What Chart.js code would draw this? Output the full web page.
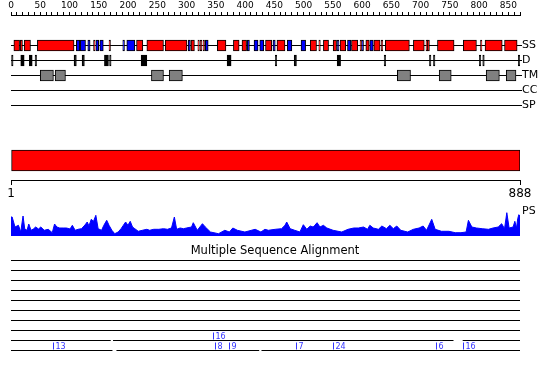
<!DOCTYPE html>
<html lang="en">
<head>
    <meta charset="UTF-8">
    <title>Sequence Feature Overview</title>
    <script src="https://cdn.jsdelivr.net/npm/chart.js"></script>
    <style>
        body {
            margin: 0;
            background-color: #ffffff;
        }

        #wrap {
            width: 550px;
            height: 380px;
            position: relative;
        }
    </style>
</head>
<body>
    <div id="wrap"><canvas id="featureChart"></canvas></div>

    <script>
        // Secondary structure: helices (red) and strands (blue), residue ranges
        const helix = [[5, 15], [16, 20], [23, 34], [46, 110], [144, 144], [171, 171], [219, 230], [237, 266],
            [269, 307], [314, 320], [326, 326], [330, 333], [335, 335], [360, 375], [388, 398], [403, 411],
            [444, 455], [464, 478], [522, 533], [537, 537], [545, 554], [562, 568], [574, 584], [594, 605],
            [609, 609], [619, 625], [633, 644], [646, 646], [653, 695], [702, 721], [724, 724], [726, 730],
            [744, 773], [789, 812], [819, 819], [827, 857], [861, 883]];
        const strand = [[114, 120], [121, 130], [134, 138], [148, 153], [155, 161], [195, 198], [202, 216],
            [309, 313], [339, 344], [412, 416], [424, 431], [434, 441], [457, 461], [482, 490], [506, 514],
            [569, 572], [587, 593], [612, 615], [626, 632]];
        // Disorder (D)
        const disorder = [[1, 1], [17, 23], [32, 37], [42, 42], [110, 114], [124, 128], [163, 170], [172, 174],
            [227, 237], [377, 384], [461, 461], [494, 498], [569, 575], [651, 651], [730, 730], [737, 737],
            [817, 817], [823, 823], [885, 888]];
        // Transmembrane segments (TM)
        const transmem = [[51, 74], [77, 95], [245, 266], [276, 299], [674, 697], [747, 768], [829, 852], [864, 881]];
        // Domain bar
        const domains = [[1, 888]];

        const seqLength = 888;
        const rulerMax = 870;
        const trackNames = ['SS', 'D', 'TM', 'CC', 'SP', 'PS'];

        // PS profile (residue, height)
        const psPos = [0, 2, 7, 13, 17, 21, 24, 28, 31, 35, 39, 43, 48, 52, 58, 65, 72, 76, 80, 85, 91, 97, 103,
            107, 112, 117, 123, 129, 133, 136, 140, 144, 148, 152, 158, 162, 167, 171, 176, 181, 187, 192, 196,
            200, 204, 208, 212, 216, 222, 229, 237, 242, 249, 258, 266, 273, 280, 285, 289, 295, 301, 306, 315,
            318, 325, 334, 339, 348, 362, 373, 381, 387, 395, 408, 426, 436, 443, 449, 461, 472, 478, 481, 487,
            495, 504, 510, 516, 522, 527, 530, 534, 539, 545, 551, 562, 577, 588, 598, 606, 615, 622, 626, 632,
            641, 647, 655, 661, 667, 673, 680, 692, 702, 712, 719, 725, 734, 740, 751, 764, 775, 785, 794, 798,
            804, 812, 822, 833, 841, 850, 856, 861, 865, 869, 876, 879, 882, 884, 886, 888];
        const psVal = [19, 19, 9, 10.7, 4, 20, 7, 5.7, 12, 5.7, 7, 9, 7, 9, 5.7, 6.7, 3.3, 12, 9, 8, 8, 8, 7,
            10.7, 5.7, 6.7, 7.3, 11, 14, 10, 16.7, 14.7, 20.7, 7.3, 5.7, 10.7, 15.7, 10.7, 5.7, 2.3, 4, 7.3, 10.7,
            14, 10.7, 14.7, 9, 7.3, 4.7, 5.7, 6.7, 5.7, 6.7, 6.7, 7.3, 6.7, 8, 19, 6.7, 8, 7.3, 8, 9,
            13.3, 5.7, 12.3, 9, 4, 2.3, 5.7, 4, 8, 5.7, 4, 6.7, 4, 6.7, 5.7, 6.7, 7.3, 10.7, 14, 7.3,
            5.7, 4, 11.3, 6.7, 10, 9, 10.7, 13.3, 9, 10.7, 8, 5.7, 4, 6.7, 8, 8, 9, 6.7, 10.7, 8,
            6.7, 10, 7.3, 10.7, 7.3, 10, 5.7, 4, 6.7, 8, 10, 5.7, 16.7, 6.7, 4.7, 4.7, 3.3, 3.3, 4, 15.7,
            9, 8, 7.3, 6.7, 8, 9, 12.3, 7.3, 23.3, 8, 9, 14.7, 8, 17.3, 21.3, 20];

        // Multiple sequence alignment rows (aligned residue ranges)
        const msaFull = [[1, 888]];
        const msaRow9 = [[1, 174], [179, 772], [789, 888]];
        const msaRow10 = [[1, 177], [185, 433], [438, 888]];
        const msaRows = [msaFull, msaFull, msaFull, msaFull, msaFull, msaFull, msaFull, msaFull, msaRow9, msaRow10];
        // insertion markers: row (0-based), residue, inserted length
        const insRow = [8, 9, 9, 9, 9, 9, 9, 9];
        const insPos = [353, 74, 356, 381, 497, 561, 741, 789];
        const insLen = [16, 13, 8, 9, 7, 24, 6, 16];

        // Layout (pixel rows on the y scale)
        const rowY = { SS: 45.5, D: 60.5, TM: 75.5, CC: 90.5, SP: 105.5, PS: 211, domain: 160.5, ruler: 180.5 };
        const psBase = 236;
        const msaTitleY = 251;
        const msaTop = 260.5;
        const msaGap = 10;
        const FONT = '"DejaVu Sans", sans-serif';

        const toBars = (ranges, row) => ranges.map(r => ({ x: r, y: row }));

        function barSet(ranges, row, color, thickness) {
            return {
                type: 'bar',
                indexAxis: 'y',
                xAxisID: 'x',
                yAxisID: 'y',
                stack: 'tracks',
                data: toBars(ranges, row),
                backgroundColor: color,
                borderColor: '#000000',
                borderWidth: 1,
                borderSkipped: false,
                barThickness: thickness,
                minBarLength: 1.5,
            };
        }

        const noPad = s => {
            s.paddingTop = 0;
            s.paddingBottom = 0;
        };

        // Draws the alignment block, its title and insertion markers using the chart scales
        const msaPlugin = {
            id: 'msa',
            afterDatasetsDraw(chart) {
                const { ctx } = chart;
                const x = chart.scales.x;
                const y = chart.scales.y;
                ctx.save();
                ctx.fillStyle = '#000';
                ctx.font = '11.5px ' + FONT;
                ctx.textAlign = 'center';
                ctx.textBaseline = 'middle';
                ctx.fillText('Multiple Sequence Alignment', chart.width / 2, y.getPixelForValue(msaTitleY));

                ctx.strokeStyle = '#000';
                ctx.lineWidth = 1;
                msaRows.forEach((segs, i) => {
                    const py = y.getPixelForValue(msaTop + i * msaGap);
                    segs.forEach(s => {
                        ctx.beginPath();
                        ctx.moveTo(x.getPixelForValue(s[0] - 1), py);
                        ctx.lineTo(x.getPixelForValue(s[1]), py);
                        ctx.stroke();
                    });
                });

                ctx.strokeStyle = '#3333ff';
                ctx.fillStyle = '#3333ff';
                ctx.font = '8px ' + FONT;
                ctx.textAlign = 'left';
                ctx.textBaseline = 'bottom';
                insPos.forEach((p, i) => {
                    const px = Math.round(x.getPixelForValue(p)) + 0.5;
                    const py = y.getPixelForValue(msaTop + insRow[i] * msaGap) - 1;
                    ctx.beginPath();
                    ctx.moveTo(px, py);
                    ctx.lineTo(px, py - 7);
                    ctx.stroke();
                    ctx.fillText(String(insLen[i]), px + 2, py + 1);
                });
                ctx.restore();
            }
        };

        const data = {
            datasets: [
                barSet(helix, rowY.SS, '#ff0000', 11),
                barSet(strand, rowY.SS, '#0000ff', 11),
                barSet(disorder, rowY.D, '#000000', 11),
                barSet(transmem, rowY.TM, '#808080', 11),
                barSet(domains, rowY.domain, '#ff0000', 21),
                {
                    type: 'line',
                    indexAxis: 'x',
                    xAxisID: 'x',
                    yAxisID: 'yPS',
                    data: psPos.map((p, i) => ({ x: p, y: psVal[i] })),
                    borderColor: '#0000ff',
                    backgroundColor: '#0000ff',
                    borderWidth: 1,
                    pointRadius: 0,
                    fill: 'origin',
                    tension: 0,
                },
            ],
        };

        const config = {
            type: 'bar',
            data: data,
            options: {
                responsive: true,
                maintainAspectRatio: false,
                animation: false,
                events: [],
                layout: { padding: { left: 11, right: 0, top: 0, bottom: 0 } },
                plugins: {
                    legend: { display: false },
                    tooltip: { enabled: false },
                },
                scales: {
                    // data scale for all tracks (hidden)
                    x: {
                        type: 'linear',
                        display: false,
                        stacked: false,
                        min: 0,
                        max: seqLength,
                        offset: false,
                    },
                    // residue ruler along the top
                    xRuler: {
                        type: 'linear',
                        axis: 'x',
                        position: 'top',
                        min: 0,
                        max: rulerMax,
                        offset: false,
                        grid: { drawOnChartArea: false, offset: false, color: '#000', tickLength: 3 },
                        border: { color: '#000' },
                        ticks: {
                            stepSize: 10,
                            includeBounds: false,
                            autoSkip: false,
                            maxRotation: 0,
                            padding: 1,
                            color: '#000',
                            font: { family: FONT, size: 9 },
                            callback: v => (v % 50 === 0 ? String(v) : ''),
                        },
                        afterFit: s => { s.height = 15; },
                    },
                    x2: {
                        type: 'linear',
                        axis: 'x',
                        position: { y: rowY.ruler },
                        min: 1,
                        max: seqLength,
                        offset: false,
                        grid: { drawOnChartArea: false, offset: false, color: '#000', tickLength: 4 },
                        border: { color: '#000' },
                        afterBuildTicks: s => { s.ticks = [{ value: 1 }, { value: seqLength }]; },
                        ticks: {
                            autoSkip: false,
                            maxRotation: 0,
                            padding: 2,
                            color: '#000',
                            font: { family: FONT, size: 12 },
                        },
                        afterFit: noPad,
                    },
                    y: {
                        type: 'linear',
                        position: 'right',
                        reverse: true,
                        min: 15,
                        max: 380,
                        offset: false,
                        border: { display: false },
                        grid: {
                            offset: false,
                            tickLength: 2,
                            color: c => (c.index === 5 ? 'rgba(0,0,0,0)' : '#000'),
                        },
                        afterBuildTicks: s => {
                            s.ticks = trackNames.map(n => ({ value: rowY[n] }));
                        },
                        ticks: {
                            padding: 0,
                            color: '#000',
                            font: { family: FONT, size: 11 },
                            callback: (v, i) => trackNames[i],
                        },
                        afterFit: s => {
                            s.width = 30;
                            noPad(s);
                        },
                    },
                    yPS: {
                        type: 'linear',
                        display: false,
                        min: psBase - 380,
                        max: psBase - 15,
                    },
                },
            },
            plugins: [msaPlugin],
        };

        new Chart(document.getElementById('featureChart'), config);
    </script>
</body>
</html>
